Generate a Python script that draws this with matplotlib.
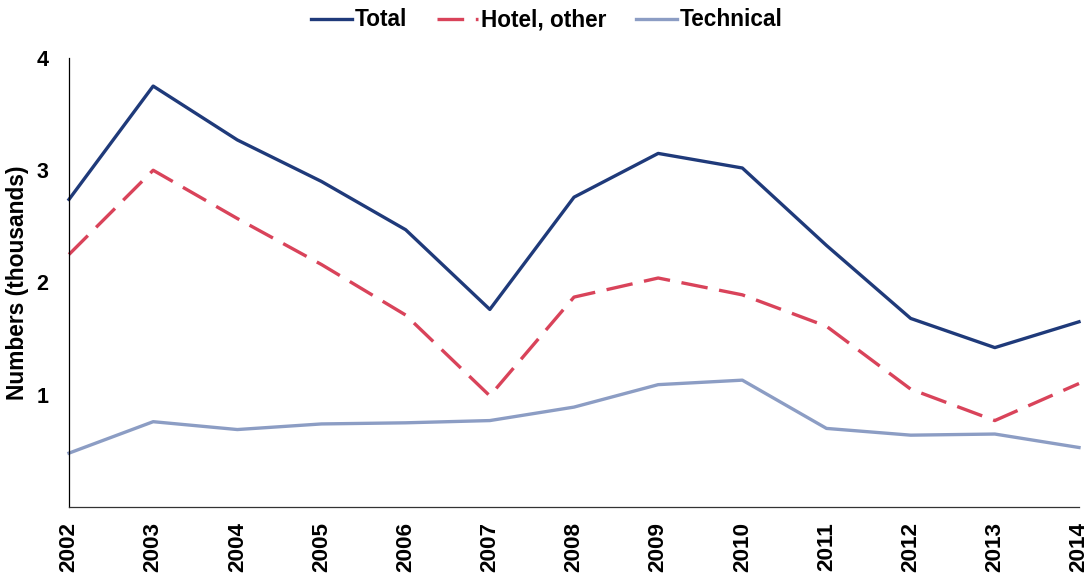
import matplotlib
matplotlib.use("Agg")
import matplotlib.pyplot as plt

years = list(range(2002, 2015))
total = [2.74, 3.75, 3.27, 2.90, 2.47, 1.76, 2.76, 3.15, 3.02, 2.33, 1.68, 1.42, 1.65]
hotel_other = [2.25, 3.00, 2.57, 2.16, 1.71, 0.99, 1.87, 2.04, 1.89, 1.61, 1.05, 0.77, 1.10]
technical = [0.48, 0.76, 0.69, 0.74, 0.75, 0.77, 0.89, 1.09, 1.13, 0.70, 0.64, 0.65, 0.53]
series_names = ["Total", "Hotel, other", "Technical"]
y_ticks = [1, 2, 3, 4]

plt.rcParams['font.family'] = ['Liberation Sans', 'DejaVu Sans']
plt.rcParams['font.weight'] = 'bold'

fig = plt.figure(figsize=(10.89, 5.74), dpi=100)
ax = fig.add_axes([69/1089, 1-507/574, (1079-69)/1089, (507-58)/574])

ax.plot(years, total, color='#1F3A7A', lw=2.4, label=series_names[0], clip_on=False)
ax.plot(years, hotel_other, color='#D9435A', lw=2.4, dashes=(8, 3.5), label=series_names[1], clip_on=False)
ax.plot(years, technical, color='#8C9DC4', lw=2.4, label=series_names[2], clip_on=False)

ax.set_xlim(2002, 2014)
ax.set_ylim(0, 4)
ax.set_yticks(y_ticks)
ax.set_yticklabels([str(t) for t in y_ticks], fontsize=15.5, fontweight='bold')
ax.set_xticks(years)
ax.set_xticklabels([str(y) for y in years], rotation=90, fontsize=16.2, fontweight='bold')
ax.tick_params(axis='both', length=0)
ax.tick_params(axis='y', pad=15)
ax.tick_params(axis='x', pad=11)

for s in ['top', 'right']:
    ax.spines[s].set_visible(False)
ax.spines['left'].set_color('#000000')
ax.spines['left'].set_linewidth(0.9)
ax.spines['bottom'].set_color('#333333')
ax.spines['bottom'].set_linewidth(0.9)

ax.set_ylabel("Numbers (thousands)", fontsize=16.4, fontweight='bold')
ax.yaxis.set_label_coords((29 - 69) / 1010, 0.5)

fig.legend(loc='center', bbox_to_anchor=(547/1089, 1-20/574), ncol=3, frameon=False,
           handlelength=1.8, handletextpad=0.15, columnspacing=1.3,
           prop={'weight': 'bold', 'size': 16.3})

fig.savefig("out.png", dpi=100)
